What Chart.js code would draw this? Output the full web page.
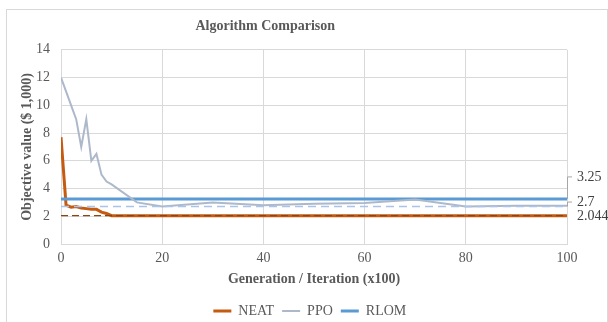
<!DOCTYPE html>
<html>
<head>
<meta charset="utf-8">
<script src="https://cdn.jsdelivr.net/npm/chart.js@4.4.1/dist/chart.umd.min.js"></script>
<style>
  html, body { margin: 0; padding: 0; background: #fff; }
  #wrap { width: 608px; height: 322px; }
</style>
</head>
<body>
<div id="wrap"><canvas id="chart"></canvas></div>
<script>
// generation / iteration (x100) and objective values ($ 1,000)
const neatX = [0, 1, 2, 3, 4, 5, 6, 7, 8, 9, 10, 20, 40, 60, 80, 100];
const neatY = [7.7, 2.8, 2.65, 2.7, 2.6, 2.55, 2.5, 2.5, 2.3, 2.2, 2.044, 2.044, 2.044, 2.044, 2.044, 2.044];
const ppoX = [0, 1, 2, 3, 4, 5, 6, 7, 8, 9, 10, 15, 20, 30, 40, 50, 60, 70, 80, 90, 100];
const ppoY = [12, 11, 10, 9, 7, 9, 6, 6.5, 5, 4.5, 4.3, 3.0, 2.7, 3.0, 2.8, 2.9, 2.95, 3.2, 2.7, 2.75, 2.75];
const rlomX = [0, 100];
const rlomY = [3.25, 3.25];
// best values, drawn as dashed lines
const refX = [0, 100];
const neatBest = [2.044, 2.044];
const ppoBest = [2.7, 2.7];
const xTicks = [0, 20, 40, 60, 80, 100];
const yTicks = [0, 2, 4, 6, 8, 10, 12, 14];
// labels at the right end
const endLabels = ['3.25', '2.7', '2.044'];
const endValues = [3.25, 2.7, 2.044];
const endShift = [-22, -4.5, 0.5];

const pts = (xs, ys) => xs.map((x, i) => ({x: x, y: ys[i]}));
const serif = "'Liberation Serif', 'Times New Roman', serif";
const grey = '#595959';
const legendOrder = ['NEAT', 'PPO', 'RLOM'];

const frame = {
  id: 'frame',
  beforeDraw(chart) {
    const c = chart.ctx;
    c.save();
    c.strokeStyle = '#D9D9D9';
    c.lineWidth = 1;
    c.strokeRect(6.5, 9.5, 601, 330);
    c.restore();
  }
};

// title sits left of centre, legend a bit right of it
const nudge = {
  id: 'nudge',
  afterLayout(chart) {
    chart.titleBlock.right -= 51;
    chart.legend.left += 38;
  }
};

const endLabelPlugin = {
  id: 'endLabels',
  afterDatasetsDraw(chart) {
    const c = chart.ctx, xs = chart.scales.x, ys = chart.scales.y;
    const x0 = xs.getPixelForValue(100);
    c.save();
    c.font = '14px ' + serif;
    c.fillStyle = '#404040';
    c.textBaseline = 'middle';
    c.strokeStyle = '#A6A6A6';
    c.lineWidth = 1;
    endLabels.forEach((t, i) => {
      const py = ys.getPixelForValue(endValues[i]);
      const ly = py + endShift[i];
      if (Math.abs(endShift[i]) > 3) {
        c.beginPath();
        c.moveTo(x0 + 0.5, py);
        c.lineTo(x0 + 0.5, ly);
        c.lineTo(x0 + 5, ly);
        c.stroke();
      }
      c.fillText(t, x0 + 10, ly);
    });
    c.restore();
  }
};

new Chart(document.getElementById('chart'), {
  type: 'line',
  data: {
    datasets: [
      { label: 'NEAT best', data: pts(refX, neatBest), borderColor: '#8B4513', borderWidth: 1.25, borderDash: [7, 4], pointRadius: 0 },
      { label: 'PPO best', data: pts(refX, ppoBest), borderColor: '#A9C4E8', borderWidth: 1.5, borderDash: [8, 5], pointRadius: 0 },
      { label: 'PPO', data: pts(ppoX, ppoY), borderColor: '#ADB9CA', backgroundColor: '#ADB9CA', borderWidth: 2, pointRadius: 0 },
      { label: 'RLOM', data: pts(rlomX, rlomY), borderColor: '#5B9BD5', backgroundColor: '#5B9BD5', borderWidth: 3, pointRadius: 0 },
      { label: 'NEAT', data: pts(neatX, neatY), borderColor: '#C55A11', backgroundColor: '#C55A11', borderWidth: 3, pointRadius: 0 }
    ]
  },
  options: {
    responsive: true,
    maintainAspectRatio: false,
    animation: false,
    events: [],
    layout: { padding: { left: 14.6, right: 41, top: 8, bottom: -6 } },
    scales: {
      x: {
        type: 'linear', min: 0, max: 100,
        afterBuildTicks: s => { s.ticks = xTicks.map(v => ({value: v})); },
        grid: { color: '#D9D9D9', drawTicks: false },
        border: { color: '#D9D9D9' },
        ticks: { color: grey, font: { family: serif, size: 14 }, padding: 6, maxRotation: 0 },
        title: { display: true, text: 'Generation / Iteration (x100)', color: grey, font: { family: serif, size: 14, weight: 'bold' }, padding: { top: -2.2, bottom: 8.6 } }
      },
      y: {
        min: 0, max: 14,
        afterBuildTicks: s => { s.ticks = yTicks.map(v => ({value: v})); },
        grid: { color: '#D9D9D9', drawTicks: false },
        border: { color: '#D9D9D9' },
        ticks: { color: grey, font: { family: serif, size: 14 }, padding: 11 },
        title: { display: true, text: 'Objective value ($ 1,000)', color: grey, font: { family: serif, size: 14, weight: 'bold' }, padding: { top: 4, bottom: -10.4 } }
      }
    },
    plugins: {
      title: { display: true, text: 'Algorithm Comparison', color: grey, font: { family: serif, size: 14, weight: 'bold' }, padding: { top: 10, bottom: 15 } },
      legend: {
        position: 'bottom',
        labels: {
          filter: item => legendOrder.includes(item.text),
          sort: (a, b) => legendOrder.indexOf(a.text) - legendOrder.indexOf(b.text),
          usePointStyle: true, pointStyle: 'line', pointStyleWidth: 18,
          color: grey, font: { family: serif, size: 14 }, padding: 8
        }
      },
      tooltip: { enabled: false }
    }
  },
  plugins: [frame, nudge, endLabelPlugin]
});
</script>
</body>
</html>
